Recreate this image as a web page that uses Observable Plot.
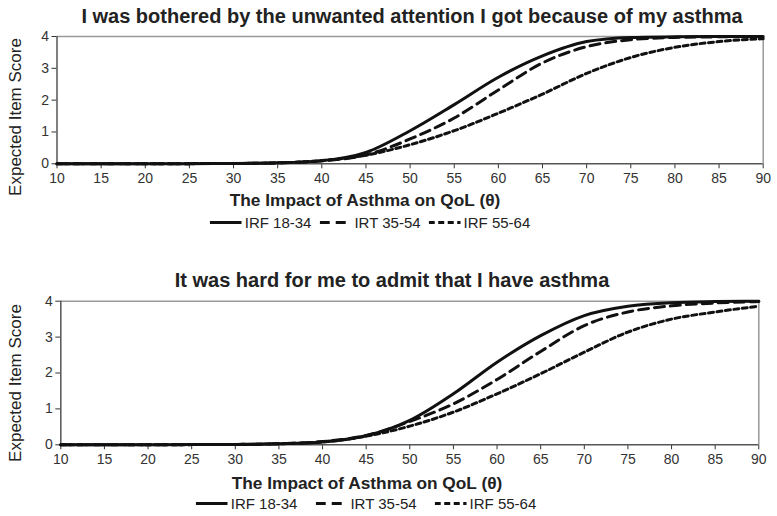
<!DOCTYPE html>
<html><head><meta charset="utf-8">
<script src="https://cdn.jsdelivr.net/npm/d3@7"></script>
<script src="https://cdn.jsdelivr.net/npm/@observablehq/plot@0.6"></script>
<style>
body{margin:0;background:#fff;font-family:"Liberation Sans",Arial,sans-serif;}
#root{position:relative;width:777px;height:516px;overflow:hidden;}
.abs{position:absolute;white-space:nowrap;}
.title{font-weight:bold;font-size:20px;color:#222;transform:translate(-50%,-50%);}
.xlab{font-weight:bold;font-size:17.3px;color:#222;transform:translate(-50%,-50%);}
.ylab{font-size:17px;color:#222;transform:translate(-50%,-50%) rotate(-90deg);}
.legend{display:flex;align-items:center;font-size:15px;color:#222;transform:translate(-50%,-50%);}
.legend span{margin-left:3px;}
.legend svg{display:block;}
</style></head>
<body><div id="root"></div>
<script>
const xs = [10,15,20,25,30,35,40,45,50,55,60,65,70,75,80,85,90];
const xTicks = [10,15,20,25,30,35,40,45,50,55,60,65,70,75,80,85,90];
const yTicks = [0,1,2,3,4];
const seriesNames = ["IRF 18-34","IRT 35-54","IRF 55-64"];
const titles = ["I was bothered by the unwanted attention I got because of my asthma","It was hard for me to admit that I have asthma"];
const xLabel = "The Impact of Asthma on QoL (θ)";
const yLabel = "Expected Item Score";

// Panel 1
const top1834 = [0,0,0,0.005,0.01,0.03,0.1,0.36,1.04,1.86,2.72,3.39,3.84,3.97,3.99,4.0,4.0];
const top3554 = [0,0,0,0.005,0.01,0.03,0.09,0.28,0.78,1.44,2.32,3.17,3.68,3.9,3.97,3.99,4.0];
const top5564 = [0,0,0,0.005,0.01,0.03,0.1,0.27,0.6,1.04,1.59,2.19,2.84,3.34,3.66,3.84,3.93];
// Panel 2
const bot1834 = [0,0,0,0.005,0.01,0.03,0.08,0.25,0.68,1.42,2.30,3.04,3.6,3.86,3.96,3.99,4.0];
const bot3554 = [0,0,0,0.005,0.01,0.03,0.09,0.26,0.65,1.14,1.82,2.6,3.32,3.7,3.87,3.95,3.99];
const bot5564 = [0,0,0,0.005,0.01,0.03,0.08,0.24,0.52,0.91,1.42,1.98,2.58,3.14,3.5,3.7,3.86];

const dashes = [null, "10,6", "5,3.5"];
const root = document.getElementById("root");

function addDiv(cls, text, x, y){
  const d = document.createElement("div");
  d.className = "abs " + cls; d.textContent = text;
  d.style.left = x + "px"; d.style.top = y + "px";
  root.appendChild(d); return d;
}

function legend(x, y, gap){
  const d = document.createElement("div");
  d.className = "abs legend"; d.style.left = x+"px"; d.style.top = y+"px";
  seriesNames.forEach((n,i)=>{
    const s = document.createElementNS("http://www.w3.org/2000/svg","svg");
    s.setAttribute("width", 32); s.setAttribute("height", 10);
    if (i>0) s.style.marginLeft = gap + "px";
    const l = document.createElementNS("http://www.w3.org/2000/svg","line");
    l.setAttribute("x1",0); l.setAttribute("x2",32); l.setAttribute("y1",5); l.setAttribute("y2",5);
    l.setAttribute("stroke","#111"); l.setAttribute("stroke-width",3);
    if (dashes[i]) l.setAttribute("stroke-dasharray", i===1 ? "10,6" : "6,3.5");
    s.appendChild(l); d.appendChild(s);
    const t = document.createElement("span"); t.textContent = n; d.appendChild(t);
  });
  root.appendChild(d);
}

function panel(vals, top, m){
  const marks = [
    Plot.ruleY([4], {stroke:"#999", strokeWidth:1.5}),
    Plot.ruleX([90], {stroke:"#999", strokeWidth:1.5}),
    Plot.ruleX([10], {stroke:"#555", strokeWidth:1.5}),
    Plot.ruleY([0], {stroke:"#555", strokeWidth:1.5})
  ];
  vals.forEach((arr,i)=>{
    const data = xs.map((x,j)=>({x, y: arr[j]}));
    marks.push(Plot.line(data, {x:"x", y:"y", stroke:"#111", strokeWidth:3, curve:"monotone-x",
      strokeDasharray: dashes[i] || undefined}));
  });
  const svg = Plot.plot({
    width:777, height:210,
    marginLeft:m.l, marginRight:m.r, marginTop:m.t, marginBottom:210-m.b,
    x:{domain:[10,90], ticks:xTicks, tickSize:5, tickPadding:4, label:null, tickFormat:d=>String(d)},
    y:{domain:[0,4], ticks:yTicks, tickSize:5, tickPadding:3, label:null, tickFormat:d=>String(d)},
    style:{fontFamily:"'Liberation Sans', Arial, sans-serif", fontSize:"14px", color:"#333", background:"transparent", overflow:"visible"},
    marks
  });
  svg.style.position = "absolute"; svg.style.left = "0px"; svg.style.top = top+"px";
  root.appendChild(svg);
}

panel([top1834, top3554, top5564], 0, {l:56.5, r:777-762.7, t:36, b:163.3});
panel([bot1834, bot3554, bot5564], 260, {l:60.3, r:777-758.3, t:300.7-260, b:444.3-260});

addDiv("title", titles[0], 412, 16);
addDiv("title", titles[1], 392, 280);
addDiv("xlab", xLabel, 365, 200);
addDiv("xlab", xLabel, 367, 483);
addDiv("ylab", yLabel, 16, 117);
addDiv("ylab", yLabel, 16, 383);
legend(370, 222, 8);
legend(366, 503, 18);
</script></body></html>
